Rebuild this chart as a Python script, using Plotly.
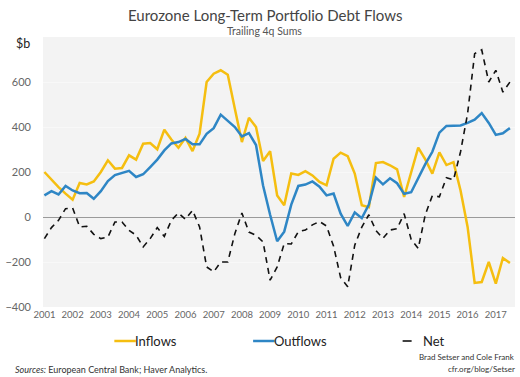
import plotly.graph_objects as go

# ---- data (USD billions, trailing 4q sums), 2001Q1 .. 2017Q3 ----
years_q = [(y, q) for y in range(2001, 2018) for q in range(1, 5)][:67]
quarters = [f"{y}Q{q}" for y, q in years_q]

inflows = [200, 166, 133, 104, 77, 151, 145, 158, 200, 252, 215, 218, 274, 255, 326, 329,
           301, 388, 344, 308, 352, 293, 370, 600, 637, 652, 632, 481, 333, 441, 400, 249,
           292, 96, 52, 193, 187, 204, 185, 156, 141, 259, 286, 270, 193, 52, 44, 240,
           244, 230, 212, 89, 193, 308, 256, 193, 287, 231, 244, 118, -44, -293, -289, -200,
           -296, -182, -204]
outflows = [96, 115, 100, 138, 118, 106, 107, 81, 115, 160, 186, 196, 205, 178, 190, 222,
            255, 296, 327, 333, 347, 323, 323, 370, 395, 455, 428, 400, 358, 373, 320, 140,
            10, -108, -65, 55, 138, 144, 158, 135, 96, 104, 15, -40, 20, -5, 55, 175,
            145, 172, 150, 103, 110, 175, 235, 290, 375, 405, 407, 407, 418, 433, 462, 418,
            365, 372, 395]
net = [-96, -47, -15, 37, 40, -44, -41, -77, -96, -89, -22, -22, -59, -81, -133, -96,
       -47, -86, -15, 18, -10, 30, -44, -222, -244, -200, -200, -74, 18, -67, -81, -111,
       -281, -222, -118, -120, -65, -58, -35, -20, -40, -130, -270, -310, -125, -45, 10, -60,
       -95, -58, -52, 15, -100, -140, 10, 95, 90, 175, 165, 290, 460, 726, 743, 600,
       652, 555, 600]

year_ticks = list(range(2001, 2018))
y_ticks = [-400, -200, 0, 200, 400, 600]

x = [int(s[:4]) + (int(s[5]) - 1) / 4 for s in quarters]

YELLOW = "#F5BE10"
BLUE = "#2E86C5"
FONT = "Lato"

fig = go.Figure()
fig.add_trace(go.Scatter(x=x, y=inflows, mode="lines", name="Inflows",
                         line=dict(color=YELLOW, width=2.5)))
fig.add_trace(go.Scatter(x=x, y=outflows, mode="lines", name="Outflows",
                         line=dict(color=BLUE, width=2.5)))
fig.add_trace(go.Scatter(x=x, y=net, mode="lines", name="Net",
                         line=dict(color="#111111", width=1.6, dash="6px,5px")))

fig.update_layout(
    width=520, height=377,
    margin=dict(l=32, r=5, t=37, b=70),
    paper_bgcolor="white", plot_bgcolor="#f3f3f3",
    showlegend=False,
    font=dict(family=FONT, color="#555"),
    xaxis=dict(range=[2000.95, 2017.68], tickvals=year_ticks,
               ticktext=[str(v) for v in year_ticks], showgrid=False,
               zeroline=False, showline=False, ticks="",
               tickfont=dict(size=9.5, color="#666", family=FONT)),
    yaxis=dict(range=[-400, 800], tickvals=y_ticks, showgrid=True,
               gridcolor="#f8f8f8", gridwidth=1,
               zeroline=True, zerolinecolor="#9a9a9a", zerolinewidth=1,
               ticks="", ticklabelstandoff=11,
               tickfont=dict(size=11, color="#666", family=FONT)),
)

PL, PR, PT, PB = 32, 515, 37, 307
def px2paper(px, py):
    return (px - PL) / (PR - PL), (PB - py) / (PB - PT)

def ann(text, px, py, size, color, xanchor="left"):
    ax, ay = px2paper(px, py)
    return dict(text=text, x=ax, y=ay, xref="paper", yref="paper", showarrow=False,
                xanchor=xanchor, yanchor="middle", font=dict(size=size, color=color))

annotations = [
    ann("Eurozone Long-Term Portfolio Debt Flows", 259, 15, 15, "#444", "center"),
    ann("Trailing 4q Sums", 259, 31, 10.5, "#555", "center"),
    ann("$b", 2, 43, 12.5, "#222"),
    ann("Inflows", 124, 341, 13, "#222"),
    ann("Outflows", 266, 341, 13, "#222"),
    ann("Net", 419, 341, 13, "#222"),
    ann("<i>Sources:</i> European Central Bank; Haver Analytics.", 1, 369, 9, "#333"),
    ann("Brad Setser and Cole Frank", 517, 357, 8, "#333", "right"),
    ann("cfr.org/blog/Setser", 517, 369, 8, "#333", "right"),
]
fig.update_layout(annotations=annotations)

shapes = []
for (x0, x1, col, dash, w) in [(105, 127, YELLOW, "solid", 2.5),
                               (247, 269, BLUE, "solid", 2.5),
                               (400, 417, "#111111", "dash", 1.6)]:
    px0, py = px2paper(x0, 341)
    px1, _ = px2paper(x1, 341)
    shapes.append(dict(type="line", xref="paper", yref="paper", x0=px0, x1=px1,
                       y0=py, y1=py, line=dict(color=col, width=w, dash=dash)))
fig.update_layout(shapes=shapes)

fig.write_html("out.html", config={"displayModeBar": False},
               post_script="document.body.style.margin='0px';")
